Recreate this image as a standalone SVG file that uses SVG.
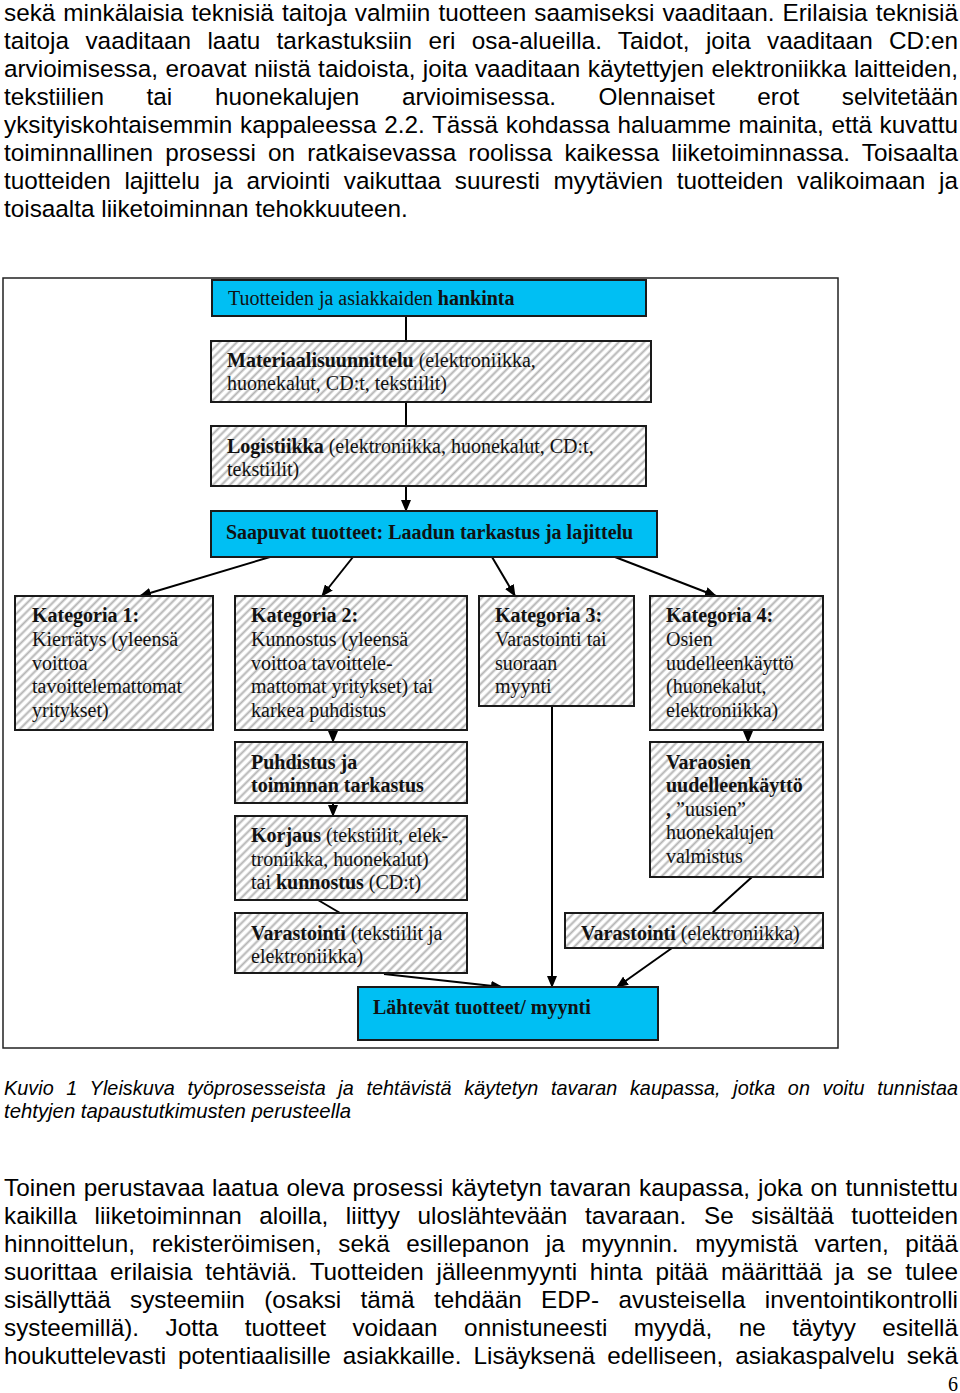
<svg xmlns="http://www.w3.org/2000/svg" width="960" height="1393" viewBox="0 0 960 1393">
<defs>
<pattern id="hatch" width="6" height="6" patternUnits="userSpaceOnUse" patternTransform="rotate(45)">
<rect width="6" height="6" fill="#ffffff"/>
<line x1="1.5" y1="0" x2="1.5" y2="6" stroke="#b4b4b4" stroke-width="2"/>
</pattern>
<marker id="ah" viewBox="0 0 12 10" refX="11" refY="5" markerWidth="12" markerHeight="10" markerUnits="userSpaceOnUse" orient="auto">
<path d="M0,0 L12,5 L0,10 z" fill="#000"/>
</marker>
</defs>
<style>
.body{font-family:"Liberation Sans",Arial,sans-serif;font-size:24.3px;fill:#000}
.cap{font-family:"Liberation Sans",Arial,sans-serif;font-size:19.8px;font-style:italic;fill:#000}
.t{font-family:"Liberation Serif","Times New Roman",serif;font-size:20px;fill:#111}
.b{font-weight:bold}
.hbox{fill:url(#hatch);stroke:#1a1a1a;stroke-width:2}
.cbox{fill:#00bff3;stroke:#1a1a1a;stroke-width:2}
.con line{stroke:#000;stroke-width:2;fill:none}
.arr{marker-end:url(#ah)}
</style>
<rect width="960" height="1393" fill="#ffffff"/>

<g id="paragraph-top">
<text class="body" x="4" y="20.5" word-spacing="1.3" textLength="954" lengthAdjust="spacing">sekä minkälaisia teknisiä taitoja valmiin tuotteen saamiseksi vaaditaan. Erilaisia teknisiä</text>
<text class="body" x="4" y="48.6" word-spacing="9.5" textLength="954" lengthAdjust="spacing">taitoja vaaditaan laatu tarkastuksiin eri osa-alueilla. Taidot, joita vaaditaan CD:en</text>
<text class="body" x="4" y="76.7" word-spacing="0.7" textLength="954" lengthAdjust="spacing">arvioimisessa, eroavat niistä taidoista, joita vaaditaan käytettyjen elektroniikka laitteiden,</text>
<text class="body" x="4" y="104.7" word-spacing="35.9" textLength="954" lengthAdjust="spacing">tekstiilien tai huonekalujen arvioimisessa. Olennaiset erot selvitetään</text>
<text class="body" x="4" y="132.8" word-spacing="0.9" textLength="954" lengthAdjust="spacing">yksityiskohtaisemmin kappaleessa 2.2. Tässä kohdassa haluamme mainita, että kuvattu</text>
<text class="body" x="4" y="160.9" word-spacing="5.3" textLength="954" lengthAdjust="spacing">toiminnallinen prosessi on ratkaisevassa roolissa kaikessa liiketoiminnassa. Toisaalta</text>
<text class="body" x="4" y="189" word-spacing="7" textLength="954" lengthAdjust="spacing">tuotteiden lajittelu ja arviointi vaikuttaa suuresti myytävien tuotteiden valikoimaan ja</text>
<text class="body" x="4" y="217.1">toisaalta liiketoiminnan tehokkuuteen.</text>
</g>

<rect id="frame" x="3" y="278" width="835" height="770" fill="none" stroke="#222" stroke-width="1.5"/>

<g id="connectors" class="con">
<line x1="406" y1="316" x2="406" y2="341"/>
<line x1="406" y1="402" x2="406" y2="426"/>
<line class="arr" x1="406" y1="486" x2="406" y2="511"/>
<line class="arr" x1="270" y1="557" x2="140" y2="596"/>
<line class="arr" x1="353" y1="557" x2="322" y2="596"/>
<line class="arr" x1="492" y1="557" x2="515" y2="596"/>
<line class="arr" x1="615" y1="557" x2="716" y2="596"/>
<line class="arr" x1="333" y1="730" x2="333" y2="742"/>
<line class="arr" x1="333" y1="803" x2="333" y2="816"/>
<line class="arr" x1="748" y1="730" x2="748" y2="742"/>
<line x1="318" y1="900" x2="352" y2="920"/>
<line x1="752" y1="877" x2="710" y2="915"/>
<line class="arr" x1="384" y1="974" x2="502" y2="987"/>
<line class="arr" x1="552" y1="706" x2="552" y2="987"/>
<line class="arr" x1="672" y1="948" x2="617" y2="987"/>
</g>

<g id="n-hankinta">
<rect class="cbox" x="212" y="280" width="434" height="36"/>
<text class="t" x="228" y="305">Tuotteiden ja asiakkaiden <tspan class="b">hankinta</tspan></text>
</g>

<g id="n-materiaali">
<rect class="hbox" x="211" y="341" width="440" height="61"/>
<text class="t" x="227" y="367"><tspan class="b">Materiaalisuunnittelu</tspan> (elektroniikka,</text>
<text class="t" x="227" y="390">huonekalut, CD:t, tekstiilit)</text>
</g>

<g id="n-logistiikka">
<rect class="hbox" x="211" y="426" width="435" height="60"/>
<text class="t" x="227" y="453"><tspan class="b">Logistiikka</tspan> (elektroniikka, huonekalut, CD:t,</text>
<text class="t" x="227" y="476">tekstiilit)</text>
</g>

<g id="n-saapuvat">
<rect class="cbox" x="211" y="511" width="446" height="46"/>
<text class="t b" x="226" y="539">Saapuvat tuotteet: Laadun tarkastus ja lajittelu</text>
</g>

<g id="n-kat1">
<rect class="hbox" x="15" y="596" width="198" height="134"/>
<text class="t" x="32" y="622"><tspan class="b">Kategoria 1:</tspan></text>
<text class="t" x="32" y="646">Kierrätys (yleensä</text>
<text class="t" x="32" y="670">voittoa</text>
<text class="t" x="32" y="693">tavoittelemattomat</text>
<text class="t" x="32" y="717">yritykset)</text>
</g>

<g id="n-kat2">
<rect class="hbox" x="235" y="596" width="232" height="134"/>
<text class="t" x="251" y="622"><tspan class="b">Kategoria 2:</tspan></text>
<text class="t" x="251" y="646">Kunnostus (yleensä</text>
<text class="t" x="251" y="670">voittoa tavoittele-</text>
<text class="t" x="251" y="693">mattomat yritykset) tai</text>
<text class="t" x="251" y="717">karkea puhdistus</text>
</g>

<g id="n-kat3">
<rect class="hbox" x="479" y="596" width="155" height="110"/>
<text class="t" x="495" y="622"><tspan class="b">Kategoria 3:</tspan></text>
<text class="t" x="495" y="646">Varastointi tai</text>
<text class="t" x="495" y="670">suoraan</text>
<text class="t" x="495" y="693">myynti</text>
</g>

<g id="n-kat4">
<rect class="hbox" x="650" y="596" width="173" height="134"/>
<text class="t" x="666" y="622"><tspan class="b">Kategoria 4:</tspan></text>
<text class="t" x="666" y="646">Osien</text>
<text class="t" x="666" y="670">uudelleenkäyttö</text>
<text class="t" x="666" y="693">(huonekalut,</text>
<text class="t" x="666" y="717">elektroniikka)</text>
</g>

<g id="n-puhdistus">
<rect class="hbox" x="235" y="742" width="232" height="61"/>
<text class="t b" x="251" y="769">Puhdistus ja</text>
<text class="t b" x="251" y="792">toiminnan tarkastus</text>
</g>

<g id="n-korjaus">
<rect class="hbox" x="235" y="816" width="232" height="84"/>
<text class="t" x="251" y="842"><tspan class="b">Korjaus</tspan> (tekstiilit, elek-</text>
<text class="t" x="251" y="866">troniikka, huonekalut)</text>
<text class="t" x="251" y="889">tai <tspan class="b">kunnostus</tspan> (CD:t)</text>
</g>

<g id="n-varastointi-t">
<rect class="hbox" x="235" y="913" width="232" height="60"/>
<text class="t" x="251" y="940"><tspan class="b">Varastointi</tspan> (tekstiilit ja</text>
<text class="t" x="251" y="963">elektroniikka)</text>
</g>

<g id="n-varaosien">
<rect class="hbox" x="650" y="742" width="173" height="135"/>
<text class="t b" x="666" y="769">Varaosien</text>
<text class="t b" x="666" y="792">uudelleenkäyttö</text>
<text class="t" x="666" y="816"><tspan class="b">,</tspan> ”uusien”</text>
<text class="t" x="666" y="839">huonekalujen</text>
<text class="t" x="666" y="863">valmistus</text>
</g>

<g id="n-varastointi-e">
<rect class="hbox" x="565" y="913" width="258" height="35"/>
<text class="t" x="581" y="940"><tspan class="b">Varastointi</tspan> (elektroniikka)</text>
</g>

<g id="n-lahtevat">
<rect class="cbox" x="358" y="987" width="300" height="53"/>
<text class="t b" x="373" y="1014">Lähtevät tuotteet/ myynti</text>
</g>

<g id="caption">
<text class="cap" x="4" y="1095" word-spacing="7" textLength="954" lengthAdjust="spacing">Kuvio 1 Yleiskuva työprosesseista ja tehtävistä käytetyn tavaran kaupassa, jotka on voitu tunnistaa</text>
<text class="cap" x="4" y="1118" textLength="347" lengthAdjust="spacingAndGlyphs">tehtyjen tapaustutkimusten perusteella</text>
</g>

<g id="paragraph-bottom">
<text class="body" x="4" y="1196" word-spacing="1.1" textLength="954" lengthAdjust="spacing">Toinen perustavaa laatua oleva prosessi käytetyn tavaran kaupassa, joka on tunnistettu</text>
<text class="body" x="4" y="1224" word-spacing="10.9" textLength="954" lengthAdjust="spacing">kaikilla liiketoiminnan aloilla, liittyy uloslähtevään tavaraan. Se sisältää tuotteiden</text>
<text class="body" x="4" y="1252" word-spacing="9.9" textLength="954" lengthAdjust="spacing">hinnoittelun, rekisteröimisen, sekä esillepanon ja myynnin. myymistä varten, pitää</text>
<text class="body" x="4" y="1280" word-spacing="6" textLength="954" lengthAdjust="spacing">suorittaa erilaisia tehtäviä. Tuotteiden jälleenmyynti hinta pitää määrittää ja se tulee</text>
<text class="body" x="4" y="1308" word-spacing="12.6" textLength="954" lengthAdjust="spacing">sisällyttää systeemiin (osaksi tämä tehdään EDP- avusteisella inventointikontrolli</text>
<text class="body" x="4" y="1336" word-spacing="19.8" textLength="954" lengthAdjust="spacing">systeemillä). Jotta tuotteet voidaan onnistuneesti myydä, ne täytyy esitellä</text>
<text class="body" x="4" y="1364" word-spacing="5.3" textLength="954" lengthAdjust="spacing">houkuttelevasti potentiaalisille asiakkaille. Lisäyksenä edelliseen, asiakaspalvelu sekä</text>
</g>

<text id="page-number" class="t" x="958" y="1391" text-anchor="end" style="fill:#000">6</text>
</svg>
